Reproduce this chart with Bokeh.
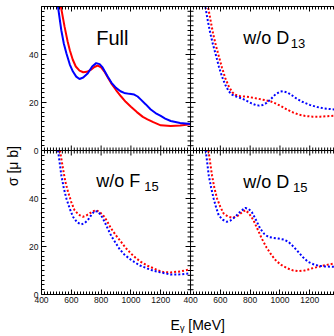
from math import pi
from bokeh.plotting import figure
from bokeh.models import ColumnDataSource, FixedTicker, LinearAxis, Range1d, Label, Span
from bokeh.transform import dodge
from bokeh.embed import file_html
from bokeh.resources import INLINE

# ---------------- data ----------------
# E_gamma [MeV] and sigma [mu b] for each panel
full_red_e = [505, 530, 555, 575, 590, 610, 630, 655, 680, 705, 730, 755, 778, 800, 822, 845, 867, 900,
              933, 965, 1000, 1040, 1080, 1111, 1150, 1200, 1267, 1330, 1400]
full_red_s = [66, 60, 51.5, 45.5, 41.8, 37.8, 35.0, 33.3, 32.6, 32.8, 33.6, 34.8, 35.4, 34.6, 32.9, 30.4, 28.1, 25.2,
              22.6, 20.3, 18.2, 16.0, 14.0, 13.0, 11.8, 10.5, 10.2, 10.4, 10.9]
full_blue_e = [490, 511, 533, 550, 567, 590, 611, 633, 655, 680, 711, 740, 767, 790, 810, 844, 870, 900, 930,
               955, 990, 1022, 1045, 1067, 1100, 1133, 1165, 1200, 1230, 1267, 1330, 1400]
full_blue_s = [68, 59.7, 50.1, 44.5, 40.5, 35.8, 32.9, 30.8, 29.8, 30.4, 32.2, 35.0, 36.4, 36.0, 34.6, 30.8, 28.2,
               26.1, 24.7, 24.0, 23.6, 23.3, 22.5, 21.2, 19.2, 17.1, 15.6, 14.4, 13.3, 12.3, 11.5, 11.0]

d13_red_e = [500, 518, 535, 552, 570, 590, 611, 633, 656, 680, 700, 730, 760, 800, 850, 900, 940, 975, 1010,
             1050, 1090, 1130, 1170, 1220, 1270, 1320, 1366]
d13_red_s = [66, 59.7, 54, 48.5, 43.8, 39.2, 34.5, 30.2, 26.8, 24.3, 23.2, 22.7, 22.5, 22.2, 21.6, 21.0, 20.4,
             19.5, 18.4, 17.0, 15.8, 14.9, 14.4, 14.1, 14.1, 14.3, 14.5]
d13_blue_e = [485, 500, 516, 533, 550, 567, 590, 611, 633, 656, 678, 700, 725, 750, 780, 810, 840, 860, 885,
              910, 940, 970, 1000, 1020, 1050, 1080, 1110, 1150, 1200, 1250, 1300, 1366]
d13_blue_s = [68, 59.7, 54, 48.7, 44.3, 40.5, 35.0, 30.8, 27.4, 24.7, 23.3, 22.6, 22.1, 21.5, 20.6, 19.6, 18.9,
              18.7, 19.0, 19.8, 21.5, 23.4, 24.5, 24.7, 24.2, 23.0, 21.7, 20.3, 19.0, 18.1, 17.5, 17.1]

f15_red_e = [524, 544, 560, 578, 600, 622, 650, 678, 700, 722, 745, 767, 790, 822, 845, 867, 900, 933,
             965, 1000, 1033, 1067, 1110, 1156, 1190, 1222, 1267, 1330, 1400]
f15_red_s = [60, 52.5, 47.0, 42.8, 38.5, 35.1, 33.2, 32.4, 32.9, 33.75, 34.7, 35.1, 34.4, 32.4, 30.0, 27.5,
             24.6, 22.0, 19.4, 17.1, 15.2, 13.6, 12.0, 10.8, 9.9, 9.3, 9.2, 9.6, 10.5]
f15_blue_e = [511, 533, 550, 567, 590, 611, 640, 667, 690, 711, 735, 755, 778, 800, 822, 844, 870, 900,
              925, 955, 990, 1022, 1060, 1111, 1150, 1200, 1267, 1330, 1400]
f15_blue_s = [60, 49.7, 44.2, 40.0, 35.7, 32.4, 30.0, 29.2, 29.8, 31.0, 33.2, 34.7, 34.6, 33.0, 30.5, 27.5,
              24.2, 21.25, 18.8, 16.7, 14.9, 13.6, 12.1, 10.8, 9.9, 9.2, 8.3, 8.4, 8.8]

d15_red_e = [520, 544, 560, 578, 600, 622, 650, 678, 700, 722, 745, 767, 790, 822, 850, 878, 910, 944,
             975, 1011, 1050, 1085, 1122, 1165, 1211, 1255, 1300, 1366]
d15_red_s = [60, 49.7, 44.4, 40.0, 36.5, 33.75, 32.5, 32.0, 32.3, 33.0, 34.2, 35.1, 34.0, 31.0, 27.2, 23.3,
             19.6, 16.4, 14.0, 12.2, 10.9, 10.1, 9.7, 10.0, 10.8, 11.5, 12.2, 12.9]
d15_blue_e = [502, 522, 538, 555, 572, 589, 615, 644, 670, 700, 735, 767, 790, 811, 840, 867, 895, 922,
              955, 989, 1025, 1056, 1090, 1122, 1155, 1189, 1225, 1256, 1300, 1366]
d15_blue_s = [60, 49.7, 44.6, 40.0, 36.2, 33.0, 31.2, 30.3, 30.9, 32.4, 34.6, 36.1, 35.6, 34.4, 31.0, 27.5,
              25.2, 24.0, 23.6, 23.3, 22.9, 22.0, 20.0, 17.8, 15.5, 13.6, 12.6, 12.0, 11.7, 11.5]

# panel axis values
e_lo, e_hi_left, e_hi_right = 400, 1400, 1366
s_lo, s_hi = 0, 60
e_tick_labels = [400, 600, 800, 1000, 1200]
s_tick_labels = [0, 20, 40]

# panel offsets in the shared 2x2 frame (right column shifted in E, top row shifted in sigma)
RIGHT = e_hi_left - e_lo
TOP = s_hi - s_lo

FONT = "Liberation Sans"
RED = "#ff0000"
BLUE = "#0000ff"

p = figure(width=334, height=335,
           x_range=Range1d(e_lo, e_hi_right + RIGHT), y_range=Range1d(s_lo, s_hi + TOP),
           output_backend="svg", toolbar_location=None,
           x_axis_location=None, y_axis_location=None,
           min_border_left=41, min_border_right=0, min_border_top=6, min_border_bottom=39)
p.outline_line_color = None
p.xgrid.visible = False
p.ygrid.visible = False

# ---- ticks ----
x_major = [v + dx for dx in (0, RIGHT) for v in e_tick_labels]
x_minor = [v for v in range(e_lo, e_hi_right + RIGHT + 1, 20) if v not in x_major]
x_over = {v + dx: str(v) for dx in (0, RIGHT) for v in e_tick_labels}
y_major = [v + dy for dy in (0, TOP) for v in s_tick_labels]
y_minor = [v for v in range(s_lo, s_hi + TOP + 1, 2) if v not in y_major]
y_over = {v + dy: str(v) for dy in (0, TOP) for v in s_tick_labels}


def make_axis(ticks, minors, overrides=None):
    ax = LinearAxis(ticker=FixedTicker(ticks=ticks, minor_ticks=minors))
    ax.major_tick_in = 5
    ax.major_tick_out = 0
    ax.minor_tick_in = 3
    ax.minor_tick_out = 0
    ax.axis_line_color = "black"
    ax.major_tick_line_color = "black"
    ax.minor_tick_line_color = "black"
    if overrides is not None:
        ax.major_label_overrides = overrides
        ax.major_label_text_font = FONT
        ax.major_label_text_font_size = "8.5px"
        ax.major_label_text_color = "#111111"
    else:
        ax.major_label_text_color = None
        ax.major_label_text_font_size = "0px"
        ax.major_label_standoff = 0
    ax.axis_label_text_font = FONT
    ax.axis_label_text_font_size = "14px"
    ax.axis_label_text_font_style = "normal"
    ax.axis_label_text_color = "black"
    return ax


xb = make_axis(x_major, x_minor, x_over)
xb.major_label_standoff = 2
xb.axis_label = "\u00a0" * 5 + "E\u1d67 [MeV]"
xb.axis_label_standoff = 11
p.add_layout(xb, "below")

xa = make_axis(x_major, x_minor)
xa.axis_label = None
p.add_layout(xa, "above")

yl = make_axis(y_major, y_minor, y_over)
yl.major_label_standoff = 3
yl.axis_label = "σ [μ b]" + "\u00a0" * 8
yl.axis_label_standoff = 5
p.add_layout(yl, "left")

# ---- panel dividers with ticks on both sides ----
p.add_layout(Span(location=e_hi_left, dimension="height", line_color="black", line_width=1))
p.add_layout(Span(location=s_hi, dimension="width", line_color="black", line_width=1))
div_y = [v for v in range(s_lo + 2, s_hi + TOP, 2)]
div_y_size = [10 if v % 20 == 0 else 6 for v in div_y]
p.scatter(x=e_hi_left, y=div_y, size=div_y_size, marker="dash", line_color="black", line_width=1)
div_x = [v for v in range(e_lo + 20, e_hi_right + RIGHT, 20) if v != e_hi_left]
div_x_size = [10 if (v - e_lo) % 200 == 0 else 6 for v in div_x]
p.scatter(x=div_x, y=s_hi, size=div_x_size, marker="dash", angle=pi / 2,
          line_color="black", line_width=1)


def curve(e, s, dx, dy, color, dashed):
    src = ColumnDataSource(dict(e=e, s=s))
    kw = dict(line_color=color, line_width=2)
    if dashed:
        kw["line_dash"] = "2 2"
    p.line(x=dodge("e", dx), y=dodge("s", dy), source=src, **kw)


curve(full_red_e, full_red_s, 0, TOP, RED, False)
curve(full_blue_e, full_blue_s, 0, TOP, BLUE, False)
curve(d13_red_e, d13_red_s, RIGHT, TOP, RED, True)
curve(d13_blue_e, d13_blue_s, RIGHT, TOP, BLUE, True)
curve(f15_red_e, f15_red_s, 0, 0, RED, True)
curve(f15_blue_e, f15_blue_s, 0, 0, BLUE, True)
curve(d15_red_e, d15_red_s, RIGHT, 0, RED, True)
curve(d15_blue_e, d15_blue_s, RIGHT, 0, BLUE, True)


def title(x, y, main, sub=None, subx=None, suby=None, size="18px"):
    p.add_layout(Label(x=x, y=y, text=main, text_font=FONT, text_font_size=size,
                       text_color="black", text_align="left", text_baseline="alphabetic"))
    if sub:
        p.add_layout(Label(x=subx, y=suby, text=sub, text_font=FONT, text_font_size="13px",
                           text_color="black", text_align="left", text_baseline="alphabetic"))


UP = 2.1
title(767, 44.8 + UP + TOP, "Full", size="20px")
title(753 + RIGHT, 44.8 + UP + TOP, "w/o D", "13", 1073 + RIGHT, 42.3 + UP + TOP)
title(767, 45.0 + UP, "w/o F", "15", 1089, 42.7 + UP)
title(753 + RIGHT, 44.6 + UP, "w/o D", "15", 1087 + RIGHT, 42.5 + UP)

open("out.html", "w").write(file_html(p, INLINE))
